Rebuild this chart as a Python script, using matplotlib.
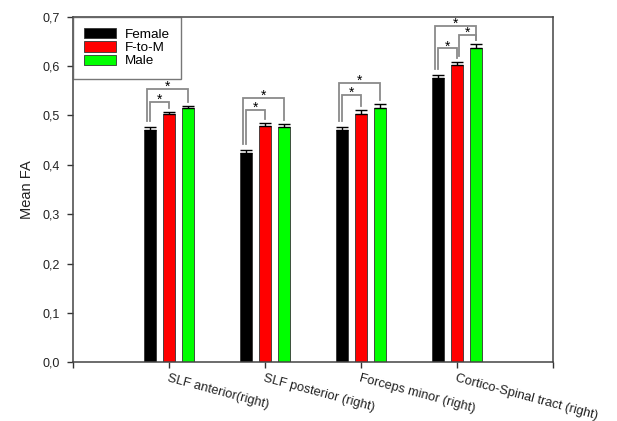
import matplotlib
matplotlib.use("Agg")
import matplotlib.pyplot as plt
import matplotlib.transforms as mtransforms
from matplotlib.patches import Patch
import numpy as np

plt.rcParams['font.family'] = ['Liberation Sans', 'DejaVu Sans']

categories = ["SLF anterior(right)", "SLF posterior (right)",
              "Forceps minor (right)", "Cortico-Spinal tract (right)"]
series_names = ["Female", "F-to-M", "Male"]
female = [0.470, 0.423, 0.470, 0.576]
ftom = [0.502, 0.478, 0.503, 0.602]
male = [0.516, 0.477, 0.516, 0.637]
female_err = [0.006, 0.007, 0.007, 0.006]
ftom_err = [0.005, 0.006, 0.008, 0.007]
male_err = [0.004, 0.006, 0.007, 0.007]
ytick_labels = ["0,0", "0,1", "0,2", "0,3", "0,4", "0,5", "0,6", "0,7"]
# significance brackets: (group, bar_i, bar_j, height)
brackets = [(0, 0, 1, 0.528), (0, 0, 2, 0.553),
            (1, 0, 1, 0.511), (1, 0, 2, 0.536),
            (2, 0, 1, 0.541), (2, 0, 2, 0.566),
            (3, 0, 1, 0.636), (3, 1, 2, 0.663), (3, 0, 2, 0.682)]

colors = ["#000000", "#ff0000", "#00ff00"]
vals = [female, ftom, male]
errs = [female_err, ftom_err, male_err]

fig = plt.figure(figsize=(6.17, 4.21), dpi=100)
ax = fig.add_axes([0.1178, 0.1394, 0.779, 0.8209])

x = np.arange(1, len(categories) + 1)
offsets = [-0.2, 0.0, 0.2]
width = 0.125
for k in range(3):
    ax.bar(x + offsets[k], vals[k], width, color=colors[k],
           edgecolor="#333333", linewidth=0.6, zorder=2)
    ax.errorbar(x + offsets[k], vals[k],
                yerr=[np.zeros(len(x)), errs[k]], fmt='none',
                ecolor='black', elinewidth=1.0, capsize=4.2, capthick=1.0,
                zorder=3)

gray = "#8a8a8a"
for g, i, j, h in brackets:
    cap_i = vals[i][g] + errs[i][g]
    cap_j = vals[j][g] + errs[j][g]
    dxi = -0.03 if (j - i) == 2 else (0.02 if i == 1 else 0.0)
    xi = x[g] + offsets[i] + dxi
    xj = x[g] + offsets[j]
    ax.plot([xi, xi, xj, xj], [cap_i + 0.012, h, h, cap_j + 0.008],
            color=gray, lw=1.3, solid_joinstyle='miter', zorder=4)
    ax.text((xi + xj) / 2, h - 0.004, "*", ha='center', va='baseline',
            fontsize=10, color='black', zorder=6)

ax.set_xlim(0, 5)
ax.set_ylim(0, 0.7)
ax.set_yticks(np.arange(0, 0.71, 0.1))
ax.set_yticklabels(ytick_labels, fontsize=9)
ax.set_xticks(np.arange(0, 6))
ax.set_xticklabels([""] + categories + [""], fontsize=9.3, rotation=-15,
                   ha='left', va='top', rotation_mode='anchor')
off = mtransforms.ScaledTranslation(-3 / 72, -2 / 72, fig.dpi_scale_trans)
for lab in ax.get_xticklabels():
    lab.set_transform(lab.get_transform() + off)

ax.tick_params(axis='both', direction='out', length=4, width=1,
               color='#333333', labelcolor='#222222')
ax.tick_params(axis='y', pad=5)
ax.tick_params(axis='x', pad=3)
for s in ax.spines.values():
    s.set_color('#444444')
    s.set_linewidth(1.1)

ax.set_ylabel("Mean FA", fontsize=10.5, color='#222222', labelpad=6)

handles = [Patch(facecolor=c, edgecolor='#333333', linewidth=0.6) for c in colors]
leg = ax.legend(handles, series_names, loc='upper left',
                bbox_to_anchor=(0, 1), borderaxespad=0, fontsize=9.7,
                frameon=True, fancybox=False, edgecolor='#555555',
                handlelength=2.4, handleheight=0.8, labelspacing=0.03,
                handletextpad=0.6, borderpad=0.85)
leg.set_zorder(5)
leg.get_frame().set_linewidth(1.0)

fig.savefig("out.png", dpi=100)
